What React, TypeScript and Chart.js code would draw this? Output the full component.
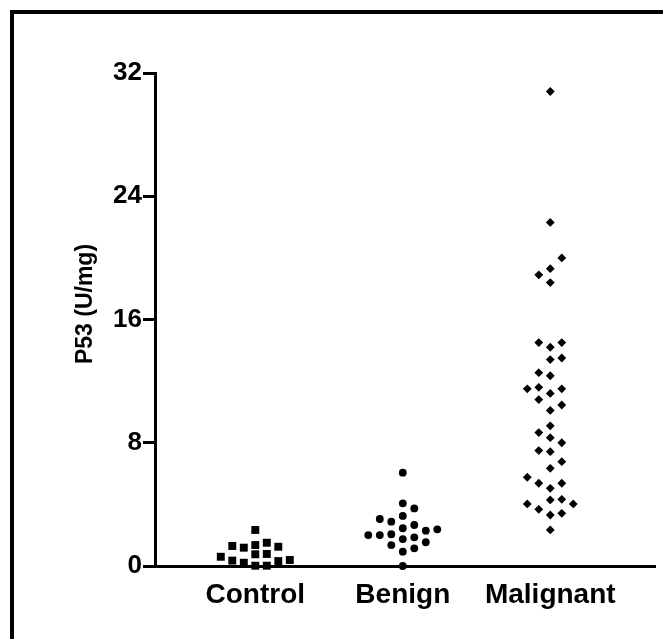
import React, { useEffect, useRef } from "react";
import { Chart, registerables } from "chart.js";

Chart.register(...registerables);

const categories = ["Control", "Benign", "Malignant"];
const controlValues = [2.34, 1.36, 1.25, 1.51, 1.19, 1.3, 0.6, 0.35, 0.78, 0.76, 0.21, 0.02, 0.02, 0.32, 0.39];
const benignValues = [6.06, 4.07, 3.74, 3.25, 3.05, 2.88, 2.66, 2.45, 2.38, 2.29, 2.06, 2.01, 2.01, 1.86, 1.75, 1.54, 1.36, 1.15, 0.93, 0.0];
const malignantValues = [
  30.8, 22.3, 20.0, 19.3, 18.9, 18.4, 14.5, 14.2, 14.5, 13.4, 13.5, 12.55, 12.35, 11.5, 11.2, 11.5, 11.6,
  10.8, 10.45, 10.1, 9.1, 8.33, 8.66, 8.0, 7.49, 7.42, 6.77, 6.34, 5.76, 5.37, 5.04, 5.37, 4.03, 4.29,
  4.33, 4.03, 3.42, 3.31, 3.68, 2.34,
];
const yTicks = [0, 8, 16, 24, 32];
const yTitle = "P53 (U/mg)";

const FONT = '"Liberation Sans", Arial, Helvetica, sans-serif';
const X_MIN = 0.32;
const X_MAX = 3.71;
const Y_MAX = 32;
const PLOT_W = 500;
const PLOT_H = 493;

// simple beeswarm: spread points horizontally so markers don't overlap
function swarm(values: number[], center: number, gapPx: number) {
  const pxY = PLOT_H / Y_MAX;
  const slotX = 11.5 / (PLOT_W / (X_MAX - X_MIN));
  const order = values.map((v, i) => i).sort((a, b) => values[a] - values[b]);
  const placed: { k: number; v: number }[] = [];
  const out: { x: number; y: number }[] = new Array(values.length);
  let flip = 1;
  for (const idx of order) {
    const v = values[idx];
    let chosen = 0;
    for (let step = 0; step < 20; step++) {
      const k = step === 0 ? 0 : step % 2 === 1 ? flip * (step + 1) / 2 : -flip * step / 2;
      const clash = placed.some((p) => p.k === k && Math.abs(p.v - v) * pxY < gapPx);
      if (!clash) {
        chosen = k;
        break;
      }
    }
    if (chosen !== 0) flip = -flip;
    placed.push({ k: chosen, v });
    out[idx] = { x: center + chosen * slotX, y: v };
  }
  return out;
}

export default function App() {
  const ref = useRef<HTMLCanvasElement | null>(null);

  useEffect(() => {
    const canvas = ref.current;
    if (!canvas) return;

    const framePlugin = {
      id: "frame",
      beforeDraw(chart: any) {
        const ctx = chart.ctx;
        ctx.save();
        ctx.fillStyle = "#fff";
        ctx.fillRect(0, 0, chart.width, chart.height);
        ctx.fillStyle = "#000";
        ctx.fillRect(10, 10, 4, chart.height);
        ctx.fillRect(10, 10, chart.width, 4);
        ctx.restore();
      },
    };

    const titlePlugin = {
      id: "ytitle",
      afterDraw(chart: any) {
        const ctx = chart.ctx;
        ctx.save();
        ctx.translate(86, 304);
        ctx.rotate(-Math.PI / 2);
        ctx.font = `bold 23px ${FONT}`;
        ctx.fillStyle = "#000";
        ctx.textAlign = "center";
        ctx.textBaseline = "middle";
        ctx.fillText(yTitle, 0, 0);
        ctx.restore();
      },
    };

    const chart = new Chart(canvas, {
      type: "scatter",
      data: {
        datasets: [
          {
            label: categories[0],
            data: swarm(controlValues, 1, 9),
            pointStyle: "rect",
            pointRadius: 5.6,
            backgroundColor: "#000",
            borderColor: "#000",
            borderWidth: 0,
            clip: false,
          },
          {
            label: categories[1],
            data: swarm(benignValues, 2, 10.5),
            pointStyle: "circle",
            pointRadius: 3.9,
            backgroundColor: "#000",
            borderColor: "#000",
            borderWidth: 0,
            clip: false,
          },
          {
            label: categories[2],
            data: swarm(malignantValues, 3, 11.5),
            pointStyle: "rectRot",
            pointRadius: 4.4,
            backgroundColor: "#000",
            borderColor: "#000",
            borderWidth: 0,
            clip: false,
          },
        ] as any,
      },
      options: {
        animation: false,
        responsive: false,
        maintainAspectRatio: false,
        devicePixelRatio: 1,
        layout: { padding: { left: 0, top: 73, right: 8, bottom: 0 } },
        plugins: { legend: { display: false }, tooltip: { enabled: false } },
        events: [],
        scales: {
          x: {
            type: "linear",
            min: X_MIN,
            max: X_MAX,
            afterFit: (s: any) => {
              s.height = 73;
            },
            afterBuildTicks: (s: any) => {
              s.ticks = categories.map((_, i) => ({ value: i + 1 }));
            },
            ticks: {
              callback: (v: any) => categories[Math.round(Number(v)) - 1] ?? "",
              font: { family: FONT, size: 28, weight: "bold" },
              color: "#000",
              padding: 12,
              maxRotation: 0,
              autoSkip: false,
            },
            grid: { display: false, drawTicks: false },
            border: { display: true, color: "#000", width: 3 },
          },
          y: {
            type: "linear",
            min: 0,
            max: Y_MAX,
            afterFit: (s: any) => {
              s.width = 155;
            },
            afterBuildTicks: (s: any) => {
              s.ticks = yTicks.map((v) => ({ value: v }));
            },
            ticks: {
              font: { family: FONT, size: 26, weight: "bold" },
              color: "#000",
              padding: 1,
            },
            grid: { drawOnChartArea: false, drawTicks: true, tickLength: 12, lineWidth: 3, color: "#000" },
            border: { display: true, color: "#000", width: 3 },
          },
        },
      } as any,
      plugins: [framePlugin, titlePlugin],
    });

    return () => chart.destroy();
  }, []);

  return (
    <div style={{ position: "fixed", left: 0, top: 0, width: 663, height: 639, background: "#fff" }}>
      <canvas ref={ref} width={663} height={639} style={{ width: 663, height: 639, display: "block" }} />
    </div>
  );
}
